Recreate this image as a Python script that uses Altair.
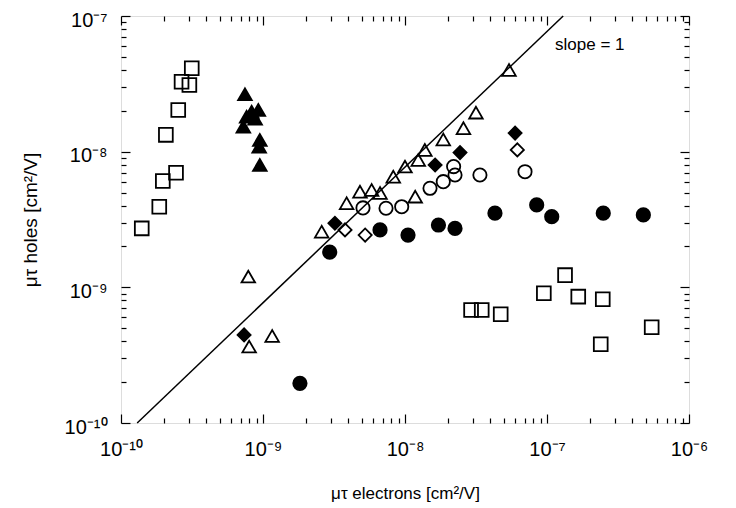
import altair as alt
import pandas as pd
import math

# ---- data ----
open_sq_x = [3.15e-10, 2.67e-10, 3.03e-10, 2.53e-10, 2.07e-10, 2.44e-10, 1.97e-10, 1.86e-10, 1.40e-10,
             2.92e-8, 3.47e-8, 4.72e-8, 9.5e-8, 1.34e-7, 1.66e-7, 2.47e-7, 2.39e-7, 5.46e-7]
open_sq_y = [4.12e-8, 3.28e-8, 3.10e-8, 2.03e-8, 1.33e-8, 7.0e-9, 6.08e-9, 3.93e-9, 2.72e-9,
             6.8e-10, 6.8e-10, 6.34e-10, 9.04e-10, 1.23e-9, 8.54e-10, 8.17e-10, 3.81e-10, 5.08e-10]

filled_tri_x = [7.46e-10, 8.32e-10, 9.27e-10, 8.8e-10, 7.67e-10, 7.27e-10, 9.5e-10, 9.4e-10, 9.5e-10]
filled_tri_y = [2.65e-8, 1.97e-8, 2.03e-8, 1.75e-8, 1.81e-8, 1.53e-8, 1.22e-8, 1.09e-8, 7.98e-9]

open_tri_x = [7.88e-10, 7.99e-10, 1.16e-9, 2.59e-9, 3.88e-9, 4.82e-9, 5.82e-9, 6.67e-9, 8.27e-9,
              1.0e-8, 1.24e-8, 1.38e-8, 1.86e-8, 2.58e-8, 3.16e-8, 5.4e-8, 1.18e-8]
open_tri_y = [1.2e-9, 3.66e-10, 4.38e-10, 2.57e-9, 4.17e-9, 5.07e-9, 5.22e-9, 4.96e-9, 6.54e-9,
              7.76e-9, 8.69e-9, 1.03e-8, 1.23e-8, 1.49e-8, 1.94e-8, 4.0e-8, 4.66e-9]

filled_circ_x = [1.82e-9, 2.95e-9, 6.67e-9, 1.05e-8, 1.72e-8, 2.25e-8, 4.3e-8, 8.46e-8, 1.08e-7, 2.49e-7, 4.77e-7]
filled_circ_y = [1.96e-10, 1.82e-9, 2.65e-9, 2.43e-9, 2.88e-9, 2.72e-9, 3.52e-9, 4.05e-9, 3.32e-9, 3.52e-9, 3.42e-9]

open_circ_x = [7.0e-8, 3.37e-8, 2.2e-8, 2.25e-8, 1.86e-8, 1.5e-8, 9.48e-9, 7.35e-9, 5.06e-9]
open_circ_y = [7.12e-9, 6.73e-9, 7.76e-9, 6.73e-9, 6.01e-9, 5.37e-9, 3.93e-9, 3.83e-9, 3.85e-9]

open_dia_x = [6.18e-8, 3.78e-9, 5.24e-9]
open_dia_y = [1.03e-8, 2.65e-9, 2.43e-9]

filled_dia_x = [7.36e-10, 3.21e-9, 1.63e-8, 2.44e-8, 5.96e-8]
filled_dia_y = [4.46e-10, 2.97e-9, 7.98e-9, 9.84e-9, 1.37e-8]

line_x = [1.3e-10, 1.3e-7]
line_y = [1.0e-10, 1.0e-7]

note_text = ["slope = 1"]
note_x = [2.0e-7]
note_y = [6.1e-8]

x_tick_values = [1e-10, 1e-9, 1e-8, 1e-7, 1e-6]
x_tick_labels = ["10⁻¹⁰", "10⁻⁹", "10⁻⁸", "10⁻⁷", "10⁻⁶"]
y_tick_values = [1e-10, 1e-9, 1e-8, 1e-7]
y_tick_labels = ["10⁻¹⁰", "10⁻⁹", "10⁻⁸", "10⁻⁷"]

x_title = "μτ electrons [cm²/V]"
y_title = "μτ holes [cm²/V]"

# ---- build tables ----
series = [
    ("open square", open_sq_x, open_sq_y),
    ("filled triangle", filled_tri_x, filled_tri_y),
    ("open triangle", open_tri_x, open_tri_y),
    ("filled circle", filled_circ_x, filled_circ_y),
    ("open circle", open_circ_x, open_circ_y),
    ("open diamond", open_dia_x, open_dia_y),
    ("filled diamond", filled_dia_x, filled_dia_y),
]
rows = []
for name, xs_, ys_ in series:
    for a, b in zip(xs_, ys_):
        rows.append({"x": a, "y": b, "series": name})
pts = pd.DataFrame(rows)
line_df = pd.DataFrame({"x": line_x, "y": line_y})
note_df = pd.DataFrame({"x": note_x, "y": note_y, "t": note_text})

names = [s[0] for s in series]
shape_range = ["square", "triangle-up", "triangle-up", "circle", "circle", "diamond", "diamond"]
fill_range = ["transparent", "black", "transparent", "black", "transparent", "transparent", "black"]
size_range = [190, 170, 170, 200, 170, 150, 170]

def minor_values(lo, hi):
    out = []
    for e in range(lo, hi):
        for m in range(2, 10):
            out.append(m * 10.0 ** e)
    return out

x_minor = minor_values(-10, -6)
y_minor = minor_values(-10, -7)

def label_expr(values, labels):
    s = ""
    for v, l in zip(values, labels):
        s += f"abs(log(datum.value) - ({math.log(v)!r})) < 0.01 ? '{l}' : "
    return s + "''"

FONT = "Liberation Sans"
xs = alt.Scale(type="log", domain=[1e-10, 1e-6], nice=False)
ys = alt.Scale(type="log", domain=[1e-10, 1e-7], nice=False)

MAJ = 9
MIN = 5

def tick_axis(orient, values, size):
    return alt.Axis(orient=orient, values=values, ticks=True, tickSize=size, offset=-size, labels=False,
                    domain=False, grid=False, title=None, tickColor="black", tickWidth=1.2, zindex=1)

x_main_axis = alt.Axis(orient="bottom", values=x_tick_values, labelExpr=label_expr(x_tick_values, x_tick_labels),
                       ticks=True, tickSize=MAJ, offset=-MAJ, domain=False, grid=False, title=x_title,
                       labelFont=FONT, labelFontSize=20, labelColor="black", labelPadding=16,
                       titleFont=FONT, titleFontSize=17, titleFontWeight="normal", titleColor="black",
                       titlePadding=26, tickColor="black", tickWidth=1.2, labelFlush=False, zindex=1)
y_main_axis = alt.Axis(orient="left", values=y_tick_values, labelExpr=label_expr(y_tick_values, y_tick_labels),
                       ticks=True, tickSize=MAJ, offset=-MAJ, domain=False, grid=False, title=y_title,
                       labelFont=FONT, labelFontSize=20, labelColor="black", labelPadding=14, labelOffset=4,
                       titleFont=FONT, titleFontSize=19, titleFontWeight="normal", titleColor="black",
                       titlePadding=24, tickColor="black", tickWidth=1.2, labelFlush=False, zindex=1)

points = alt.Chart(pts).mark_point(strokeWidth=1.8, opacity=1, stroke="black").encode(
    x=alt.X("x:Q", scale=xs, axis=x_main_axis),
    y=alt.Y("y:Q", scale=ys, axis=y_main_axis),
    shape=alt.Shape("series:N", scale=alt.Scale(domain=names, range=shape_range), legend=None),
    fill=alt.Fill("series:N", scale=alt.Scale(domain=names, range=fill_range), legend=None),
    size=alt.Size("series:N", scale=alt.Scale(domain=names, range=size_range), legend=None),
)

line = alt.Chart(line_df).mark_line(color="black", strokeWidth=1.5).encode(
    x=alt.X("x:Q", scale=xs, axis=tick_axis("bottom", x_minor, MIN)),
    y=alt.Y("y:Q", scale=ys, axis=tick_axis("left", y_minor, MIN)),
)

note = alt.Chart(note_df).mark_text(font=FONT, fontSize=17, color="black").encode(
    x=alt.X("x:Q", scale=xs, axis=tick_axis("top", x_tick_values, MAJ)),
    y=alt.Y("y:Q", scale=ys, axis=tick_axis("right", y_tick_values, MAJ)),
    text="t:N",
)

dummy = alt.Chart(line_df).mark_line(opacity=0).encode(
    x=alt.X("x:Q", scale=xs, axis=tick_axis("top", x_minor, MIN)),
    y=alt.Y("y:Q", scale=ys, axis=tick_axis("right", y_minor, MIN)),
)

chart = alt.layer(line, dummy, note, points).resolve_axis(
    x="independent", y="independent"
).properties(
    width=568, height=407,
    autosize=alt.AutoSizeParams(type="none"),
    padding={"left": 113, "top": 8, "right": 30, "bottom": 85},
).configure_view(stroke="black", strokeWidth=1.5).configure(background="white")

chart.save("out.html", embed_options={"renderer": "svg", "actions": False})
